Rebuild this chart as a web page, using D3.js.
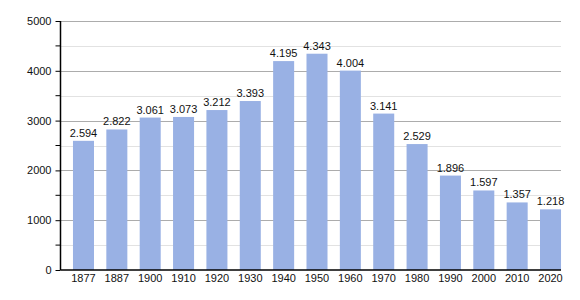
<!DOCTYPE html>
<html><head><meta charset="utf-8">
<script src="https://cdn.jsdelivr.net/npm/d3@7"></script>
<style>body{margin:0;background:#fff}svg{display:block}text{font-family:"Liberation Sans",Arial,sans-serif}</style>
</head><body>
<svg id="c" width="580" height="300"></svg>
<script>
const years = ["1877","1887","1900","1910","1920","1930","1940","1950","1960","1970","1980","1990","2000","2010","2020"];
const population = [2594,2822,3061,3073,3212,3393,4195,4343,4004,3141,2529,1896,1597,1357,1218];
const valueLabels = ["2.594","2.822","3.061","3.073","3.212","3.393","4.195","4.343","4.004","3.141","2.529","1.896","1.597","1.357","1.218"];
const majorTicks = [0,1000,2000,3000,4000,5000];
const minorTicks = [500,1500,2500,3500,4500];

const svg = d3.select("#c");
const x0 = 60.5, x1 = 561, yB = 270, yT = 21;
const x = d3.scaleBand().domain(years).range([66.8, 567.2]).paddingInner(0.37).paddingOuter(0.185);
const y = d3.scaleLinear().domain([0,5000]).range([yB, yT]);

// grid
svg.append("g").selectAll("line").data(minorTicks).join("line")
  .attr("x1", x0).attr("x2", x1).attr("y1", d=>Math.round(y(d))+0.5).attr("y2", d=>Math.round(y(d))+0.5)
  .attr("stroke", "#e2e2e2").attr("stroke-width", 1);
svg.append("g").selectAll("line").data(majorTicks.slice(1)).join("line")
  .attr("x1", x0).attr("x2", x1).attr("y1", d=>Math.round(y(d))+0.5).attr("y2", d=>Math.round(y(d))+0.5)
  .attr("stroke", "#acacac").attr("stroke-width", 1);

// bars
svg.append("g").selectAll("rect").data(population).join("rect")
  .attr("x", (d,i)=>x(years[i])).attr("width", x.bandwidth())
  .attr("y", d=>y(d)).attr("height", d=>yB - y(d))
  .attr("fill", "#99b1e4");

// value labels
svg.append("g").selectAll("text").data(population).join("text")
  .attr("x", (d,i)=>x(years[i]) + x.bandwidth()/2).attr("y", d=>y(d)-4)
  .attr("text-anchor","middle").attr("font-size", 11).attr("fill","#111")
  .text((d,i)=>valueLabels[i]);

// y axis
const yAxis = d3.axisLeft(y).tickValues(majorTicks).tickSize(5).tickPadding(4).tickFormat(d3.format("d"));
const ga = svg.append("g").attr("transform", `translate(${x0},0)`).call(yAxis);
ga.select(".domain").remove();
ga.selectAll("text").attr("font-size", 11).attr("fill","#111").style("font-family",'"Liberation Sans",Arial,sans-serif');
ga.selectAll("line").attr("stroke","#000");
svg.append("g").selectAll("line").data(minorTicks).join("line")
  .attr("x1", x0-5).attr("x2", x0).attr("y1", d=>y(d)).attr("y2", d=>y(d)).attr("stroke","#000");
svg.append("line").attr("x1", x0).attr("x2", x0).attr("y1", yT).attr("y2", yB).attr("stroke","#000").attr("stroke-width",1.5);
svg.append("line").attr("x1", x0).attr("x2", x1).attr("y1", yB).attr("y2", yB).attr("stroke","#000").attr("stroke-width",1.5);

// x labels
svg.append("g").selectAll("text").data(years).join("text")
  .attr("x", d=>x(d)+x.bandwidth()/2).attr("y", 282)
  .attr("text-anchor","middle").attr("font-size", 11).attr("fill","#111").text(d=>d);
</script>
</body></html>
